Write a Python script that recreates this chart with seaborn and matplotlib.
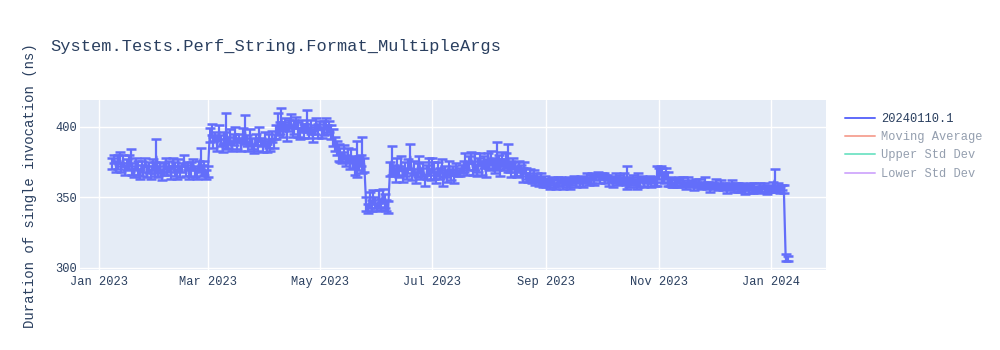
import numpy as np
import pandas as pd
import matplotlib
matplotlib.use("Agg")
import matplotlib.pyplot as plt
import matplotlib.dates as mdates
from matplotlib.lines import Line2D
import seaborn as sns

# ---------------- data ----------------
title = "System.Tests.Perf_String.Format_MultipleArgs"
y_label = "Duration of single invocation (ns)"
legend_names = ["20240110.1", "Moving Average", "Upper Std Dev", "Lower Std Dev"]
start_date = "2023-01-08"
step = "D"

mean_ns = [
    # Jan 8 - Mar 1
    374, 377, 372, 375, 378, 371, 376, 369, 373, 375,
    378, 370, 367, 374, 371, 366, 372, 369, 375, 368,
    371, 366, 373, 370, 379, 368, 372, 365, 370, 374,
    369, 372, 367, 375, 370, 366, 373, 368, 371, 376,
    369, 372, 367, 370, 374, 368, 366, 372, 377, 369,
    371, 366, 368,
    # Mar 2 - Apr 8
    394, 398, 389, 393, 387, 396, 390, 385, 392, 397,
    389, 393, 386, 391, 395, 388, 392, 387, 394, 398,
    390, 386, 393, 388, 384, 391, 387, 395, 389, 386,
    392, 385, 390, 387, 393, 388, 396, 402,
    # Apr 9 - May 6
    399, 405, 398, 402, 396, 401, 404, 397, 400, 403,
    398, 395, 401, 397, 399, 404, 396, 400, 393, 398,
    402, 397, 401, 396, 399, 402, 398, 400,
    # May 7 - May 12
    396, 392, 388, 385, 382, 380,
    # May 13 - May 25
    378, 382, 376, 380, 374, 379, 375, 372, 377, 374, 376, 380, 373,
    # May 26 - Jun 7
    345, 342, 348, 344, 350, 346, 343, 349, 345, 351, 347, 344, 343,
    # Jun 8 - Jul 17
    370, 376, 369, 366, 372, 368, 374, 365, 370, 367,
    372, 379, 366, 371, 364, 369, 373, 367, 370, 362,
    368, 372, 366, 373, 369, 364, 370, 367, 372, 363,
    368, 365, 371, 366, 369, 364, 370, 367, 368, 370,
    # Jul 18 - Aug 14
    372, 376, 370, 374, 378, 371, 375, 369, 373, 377,
    371, 375, 370, 376, 373, 378, 374, 372, 379, 375,
    371, 377, 373, 376, 378, 372, 369, 374,
    # Aug 15 - Sep 1
    370, 368, 372, 369, 366, 371, 367, 364, 366, 363,
    365, 362, 364, 361, 363, 360, 362, 360,
    # Sep 2 - Oct 1
    361, 359, 362, 360, 358, 361, 360, 362, 359, 361,
    360, 362, 359, 361, 363, 360, 362, 361, 363, 360,
    362, 364, 361, 363, 365, 362, 364, 366, 363, 365,
    # Oct 2 - Oct 31
    365, 363, 364, 361, 363, 360, 362, 364, 361, 363,
    362, 364, 361, 364, 360, 362, 363, 361, 359, 362,
    361, 363, 360, 362, 361, 363, 360, 362, 361, 365,
    # Nov 1 - Nov 8
    367, 369, 366, 364, 367, 363, 361, 360,
    # Nov 9 - Jan 8
    359, 361, 360, 362, 359, 361, 360, 358, 361, 359,
    360, 358, 361, 359, 360, 358, 359, 361, 358, 359,
    357, 359, 358, 360, 357, 358, 359, 357, 358, 356,
    358, 357, 359, 356, 358, 357, 356, 358, 357, 355,
    357, 356, 358, 355, 357, 356, 355, 357, 356, 358,
    356, 355, 357, 356, 358, 362, 356, 357, 355, 357,
    356,
    # Jan 9 - Jan 10
    307, 306.5,
]

err_ns = [
    4, 3, 4, 5, 4, 3, 4, 3, 4, 5,
    6, 4, 3, 4, 5, 3, 4, 4, 3, 4,
    4, 3, 4, 5, 12, 4, 3, 3, 4, 4,
    3, 4, 4, 3, 5, 3, 4, 4, 3, 4,
    4, 3, 4, 5, 3, 4, 3, 4, 8, 4,
    5, 3, 4,
    5, 4, 4, 3, 4, 5, 4, 3, 4, 13,
    4, 5, 3, 4, 5, 4, 3, 4, 5, 10,
    4, 3, 5, 4, 3, 4, 4, 5, 3, 4,
    4, 3, 5, 4, 4, 3, 5, 8,
    4, 8, 5, 4, 6, 4, 5, 4, 5, 4,
    5, 4, 4, 5, 3, 8, 4, 5, 4, 3,
    4, 5, 3, 4, 5, 4, 3, 4,
    5, 6, 5, 5, 6, 5,
    4, 5, 4, 5, 4, 5, 4, 6, 13, 5, 4, 13, 5,
    5, 3, 6, 4, 5, 4, 3, 6, 4, 5, 5, 4, 4,
    5, 10, 4, 5, 6, 4, 5, 4, 5, 4,
    5, 9, 4, 5, 4, 5, 6, 4, 5, 4,
    5, 6, 4, 5, 6, 4, 5, 4, 5, 5,
    4, 4, 5, 4, 3, 4, 4, 2, 3, 3,
    4, 5, 4, 5, 4, 5, 6, 4, 5, 4,
    5, 4, 6, 5, 4, 5, 4, 5, 10, 5,
    6, 5, 4, 5, 10, 4, 5, 4,
    5, 4, 4, 4, 5, 4, 4, 3, 4, 3,
    4, 3, 3, 3, 4, 3, 3, 3,
    2, 3, 2, 3, 2, 3, 2, 2, 3, 2,
    3, 2, 3, 2, 2, 3, 2, 3, 2, 3,
    2, 3, 2, 3, 2, 3, 2, 2, 3, 2,
    2, 3, 2, 3, 2, 3, 2, 3, 2, 3,
    2, 3, 2, 8, 3, 2, 3, 2, 3, 5,
    3, 2, 3, 2, 3, 2, 3, 2, 3, 7,
    4, 3, 5, 4, 4, 5, 3, 3,
    2, 2, 3, 2, 2, 3, 2, 2, 3, 2,
    2, 3, 2, 2, 3, 2, 2, 3, 2, 2,
    3, 2, 2, 3, 2, 2, 3, 2, 2, 3,
    2, 2, 3, 2, 2, 3, 2, 2, 2, 3,
    2, 3, 2, 2, 3, 2, 2, 3, 2, 2,
    2, 3, 2, 2, 3, 8, 2, 3, 2, 2,
    3,
    2.5, 2,
]

y_ticks = [300, 350, 400]
x_tick_months = [1, 3, 5, 7, 9, 11]
x_range = ("2022-12-21 12:00", "2024-01-30 22:00")
y_range = (298.4, 418.9)

# ---------------- styling ----------------
main_color = "#636EFA"
faded_colors = ["#EF553B", "#00CC96", "#AB63FA"]
text_color = "#2a3f5f"
bg_color = "#E5ECF6"

sns.set_theme(style="darkgrid", rc={
    "axes.facecolor": bg_color,
    "grid.color": "white",
    "grid.linewidth": 1.0,
    "axes.edgecolor": bg_color,
})
plt.rcParams["font.family"] = ["Liberation Mono", "DejaVu Sans Mono"]

df = pd.DataFrame({
    "date": pd.date_range(start_date, periods=len(mean_ns), freq=step),
    "mean": mean_ns,
    "err": err_ns,
})

fig = plt.figure(figsize=(10, 3.5), dpi=100)
fig.patch.set_facecolor("white")
ax = fig.add_axes([0.080, 1 - 270 / 350, 0.746, 170 / 350])

ax.errorbar(df["date"], df["mean"], yerr=df["err"], fmt="none",
            ecolor=main_color, elinewidth=1.6, capsize=3.6, capthick=1.8,
            zorder=3)
sns.lineplot(data=df, x="date", y="mean", ax=ax, color=main_color,
             linewidth=1.6, zorder=4)

ax.set_xlim(pd.Timestamp(x_range[0]), pd.Timestamp(x_range[1]))
ax.set_ylim(*y_range)
ax.set_yticks(y_ticks)
ax.xaxis.set_major_locator(mdates.MonthLocator(bymonth=x_tick_months))
ax.xaxis.set_major_formatter(mdates.DateFormatter("%b %Y"))
ax.tick_params(axis="both", length=0, labelsize=8.64, colors=text_color)
ax.tick_params(axis="x", pad=4)
ax.tick_params(axis="y", pad=2)
ax.set_xlabel("")
ax.set_ylabel("")
for s in ax.spines.values():
    s.set_visible(False)
ax.grid(True, color="white", linewidth=1.0)

fig.text(0.05, 1 - 46 / 350, title, ha="left", va="center",
         fontsize=12.24, color=text_color)
fig.text(0.030, 1 - 186 / 350, y_label, ha="center", va="center",
         rotation=90, fontsize=10.08, color=text_color)

handles = [Line2D([], [], color=main_color, linewidth=1.44)]
for c in faded_colors:
    handles.append(Line2D([], [], color=c, linewidth=1.44, alpha=0.5))
leg = fig.legend(handles, legend_names, loc="upper left",
                 bbox_to_anchor=(0.845, 1 - 113 / 350), frameon=False,
                 fontsize=8.64, handlelength=2.5, handletextpad=0.5,
                 labelspacing=0.52, borderpad=0, borderaxespad=0)
for i, t in enumerate(leg.get_texts()):
    t.set_color(text_color)
    if i > 0:
        t.set_alpha(0.5)

fig.savefig("out.png", dpi=100, facecolor="white")
